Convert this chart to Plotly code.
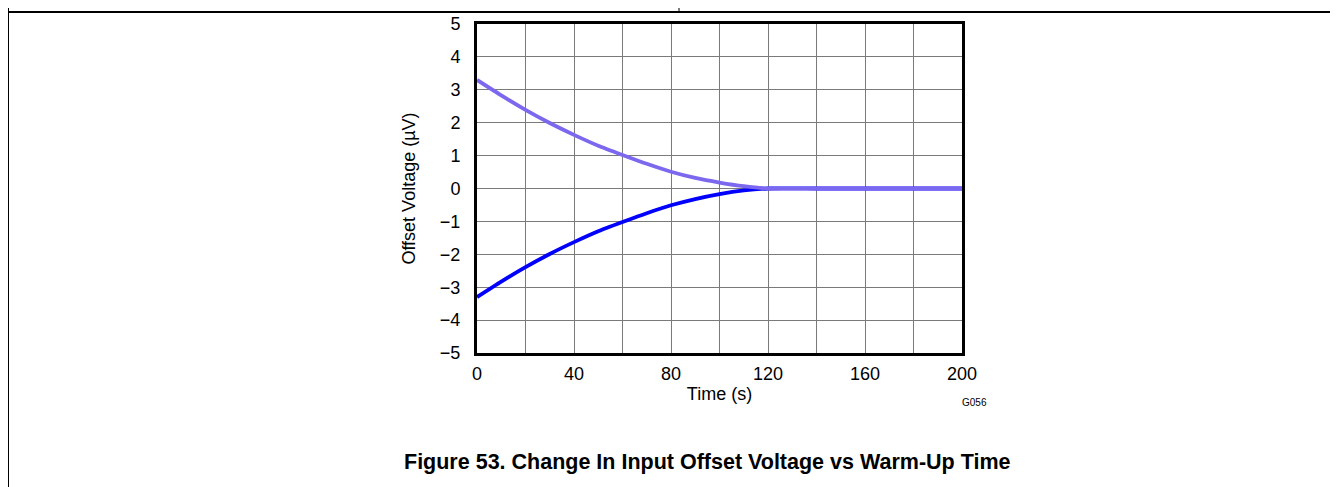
import plotly.graph_objects as go

# Data
time_s = [0, 10, 20, 30, 40, 50, 60, 70, 80, 90, 100, 110, 120, 140, 160, 180, 200]
upper_uv = [3.3, 2.83, 2.39, 1.99, 1.63, 1.3, 1.02, 0.75, 0.51, 0.32, 0.18, 0.07, 0.0, 0.0, 0.0, 0.0, 0.0]
lower_uv = [-3.3, -2.83, -2.39, -1.99, -1.63, -1.3, -1.02, -0.75, -0.51, -0.32, -0.17, -0.06, 0.0, 0.0, 0.0, 0.0, 0.0]
x_ticks = [0, 40, 80, 120, 160, 200]
y_ticks = [-5, -4, -3, -2, -1, 0, 1, 2, 3, 4, 5]
y_tick_text = ["\u22125", "\u22124", "\u22123", "\u22122", "\u22121", "0", "1", "2", "3", "4", "5"]

PAGE_W, PAGE_H = 1338, 487
OFF = 8  # browser body margin
W, H = PAGE_W - OFF, PAGE_H - OFF
# plot area in page pixels
L, R, T, B = 477, 962, 24, 353

def px(x):
    return (x - L) / (R - L)

def py(y):
    return (B - y) / (B - T)

FONT = "Liberation Sans, Arial, sans-serif"

fig = go.Figure()
fig.add_trace(go.Scatter(x=time_s, y=lower_uv, mode="lines",
                         line=dict(color="#0000FF", width=3.8, shape="spline", smoothing=0.5),
                         showlegend=False, hoverinfo="skip"))
fig.add_trace(go.Scatter(x=time_s, y=upper_uv, mode="lines",
                         line=dict(color="#7B68EE", width=3.8, shape="spline", smoothing=0.5),
                         showlegend=False, hoverinfo="skip"))

fig.update_xaxes(range=[0, 200], tickvals=x_ticks, automargin=False,
                 showgrid=True, gridcolor="#7a7a7a", gridwidth=1,
                 minor=dict(showgrid=True, gridcolor="#7a7a7a", gridwidth=1, dtick=20, tick0=0),
                 showline=True, linecolor="black", linewidth=3, mirror=True,
                 ticks="", ticklabelstandoff=2, zeroline=False,
                 tickfont=dict(family=FONT, size=18, color="black"),
                 title=dict(text="Time (s)", font=dict(family=FONT, size=18, color="black"), standoff=5))
fig.update_yaxes(range=[-5, 5], tickvals=y_ticks, ticktext=y_tick_text, automargin=False,
                 showgrid=True, gridcolor="#7a7a7a", gridwidth=1,
                 showline=True, linecolor="black", linewidth=3, mirror=True,
                 ticks="", ticklabelstandoff=10, zeroline=False,
                 tickfont=dict(family=FONT, size=18, color="black"),
                 title=dict(text="Offset Voltage (\u00b5V)", font=dict(family=FONT, size=18, color="black"), standoff=20))

shapes = [
    dict(type="line", xref="paper", yref="paper", x0=px(8), x1=px(8), y0=py(0), y1=py(PAGE_H + 5),
         line=dict(color="black", width=2)),
    dict(type="line", xref="paper", yref="paper", x0=px(8), x1=px(PAGE_W + 5), y0=py(12), y1=py(12),
         line=dict(color="black", width=2)),
    dict(type="line", xref="paper", yref="paper", x0=px(679), x1=px(679), y0=py(0), y1=py(12),
         line=dict(color="black", width=1)),
]

annotations = [
    dict(text="G056", xref="paper", yref="paper", x=px(974), y=py(402), showarrow=False,
         xanchor="center", yanchor="middle", font=dict(family=FONT, size=10, color="black")),
    dict(text="<b>Figure 53. Change In Input Offset Voltage vs Warm-Up Time</b>", xref="paper", yref="paper",
         x=px(707), y=py(462), showarrow=False, xanchor="center", yanchor="middle",
         font=dict(family=FONT, size=21.5, color="black")),
]

fig.update_layout(width=W, height=H,
                  margin=dict(l=L - OFF, r=PAGE_W - R, t=T - OFF, b=PAGE_H - B, pad=0, autoexpand=False),
                  paper_bgcolor="white", plot_bgcolor="white",
                  shapes=shapes, annotations=annotations, showlegend=False)

fig.write_html("out.html")
